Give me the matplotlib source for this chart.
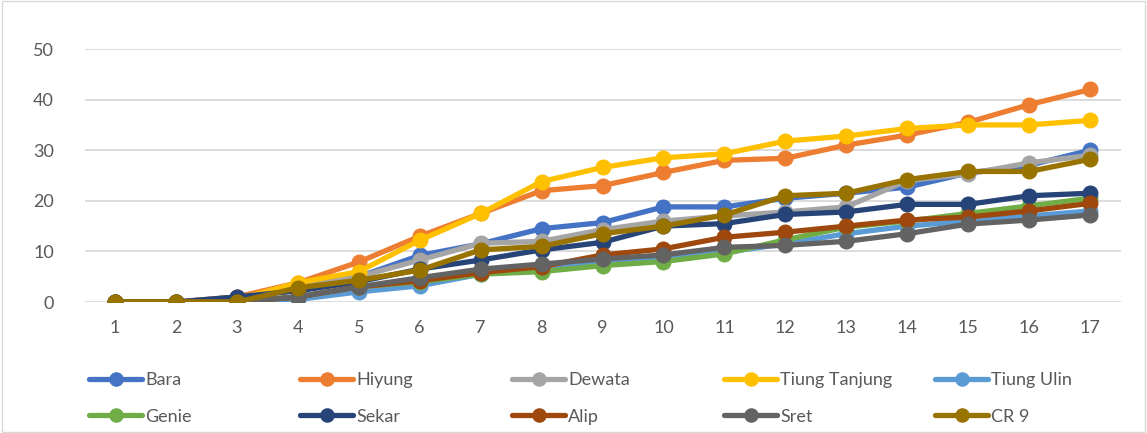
import matplotlib

matplotlib.use("Agg")
import matplotlib.pyplot as plt
from matplotlib.patches import Rectangle

plt.rcParams["font.family"] = ["Lato", "DejaVu Sans"]

# days / observation index
x = list(range(1, 18))

bara = [0, 0, 1, 3, 5, 9.2, 11.5, 14.5, 15.7, 18.8, 18.8, 20.5, 21.5, 22.7, 25.5, 27, 30]
hiyung = [0, 0, 1, 3.8, 7.9, 13, 17.5, 22, 23, 25.6, 28, 28.4, 31, 33, 35.5, 39, 42]
dewata = [0, 0, 0.5, 2.8, 5, 8.3, 11.6, 12, 14.3, 16, 17, 17.8, 18.8, 24, 25.3, 27.5, 29]
tiung_tanjung = [0, 0, 0.5, 3.8, 6, 12.2, 17.5, 23.8, 26.6, 28.5, 29.3, 31.8, 32.8, 34.3, 35, 35, 35.9]
tiung_ulin = [0, 0, 0, 0.5, 2, 3.2, 5.5, 6.5, 7.8, 8.8, 9.8, 11.5, 13.5, 15, 16, 17, 18]
genie = [0, 0, 0, 1, 3, 4, 5.5, 6, 7.2, 8, 9.5, 12.3, 14.8, 16, 17.5, 19, 20.5]
sekar = [0, 0, 1, 2.2, 4, 6.5, 8.3, 10.3, 11.8, 15, 15.5, 17.3, 17.8, 19.3, 19.3, 21, 21.5]
alip = [0, 0, 0, 1, 3, 4.2, 5.8, 7, 9.3, 10.5, 12.8, 13.8, 15, 16.2, 16.8, 18, 19.5]
sret = [0, 0, 0, 1, 3, 4.8, 6.5, 7.5, 8.5, 9.3, 10.8, 11.2, 12, 13.5, 15.4, 16.2, 17.2]
cr9 = [0, 0, 0, 2.8, 4.3, 6.3, 10.3, 11, 13.5, 15, 17.2, 21, 21.5, 24.2, 25.8, 25.8, 28.2]

names = ["Bara", "Hiyung", "Dewata", "Tiung Tanjung", "Tiung Ulin",
         "Genie", "Sekar", "Alip", "Sret", "CR 9"]
series = [bara, hiyung, dewata, tiung_tanjung, tiung_ulin,
          genie, sekar, alip, sret, cr9]
colors = ["#4472C4", "#ED7D31", "#A5A5A5", "#FFC000", "#5B9BD5",
          "#70AD47", "#264478", "#9E480E", "#636363", "#997300"]

fig = plt.figure(figsize=(11.47, 4.33), dpi=100)
ax = fig.add_axes([0.0737, 0.3025, 0.9032, 0.5843])

handles = []
for name, ys, col in zip(names, series, colors):
    (h,) = ax.plot(x, ys, color=col, lw=3.8, marker="o", markersize=10.5,
                   solid_capstyle="round", label=name)
    handles.append(h)

ax.set_xlim(0.5, 17.5)
ax.set_ylim(0, 50)
ax.set_xticks(x)
ax.set_yticks(range(0, 51, 10))
ax.grid(axis="y", color="#D9D9D9", lw=1.3)
ax.set_axisbelow(True)
for s in ax.spines.values():
    s.set_visible(False)
ax.tick_params(length=0, labelsize=13, colors="#595959", pad=13)
ax.tick_params(axis="y", pad=22)

# one legend per column so the columns sit at equal spacing
col_x = [85, 296, 508, 720, 931]
for c in range(5):
    leg = fig.legend([handles[c], handles[c + 5]], [names[c], names[c + 5]],
                     loc="upper left", bbox_to_anchor=(col_x[c] / 1147 - 0.004, 1 - 363 / 433),
                     frameon=False, fontsize=13, handlelength=2.9, handletextpad=0.2,
                     labelspacing=1.15, borderpad=0, markerscale=0.9)
    for t in leg.get_texts():
        t.set_color("#595959")

fig.patches.append(Rectangle((0.002, 0.002), 0.996, 0.996, transform=fig.transFigure,
                             fill=False, ec="#D9D9D9", lw=1))

fig.savefig("out.png", dpi=100, facecolor="white")
